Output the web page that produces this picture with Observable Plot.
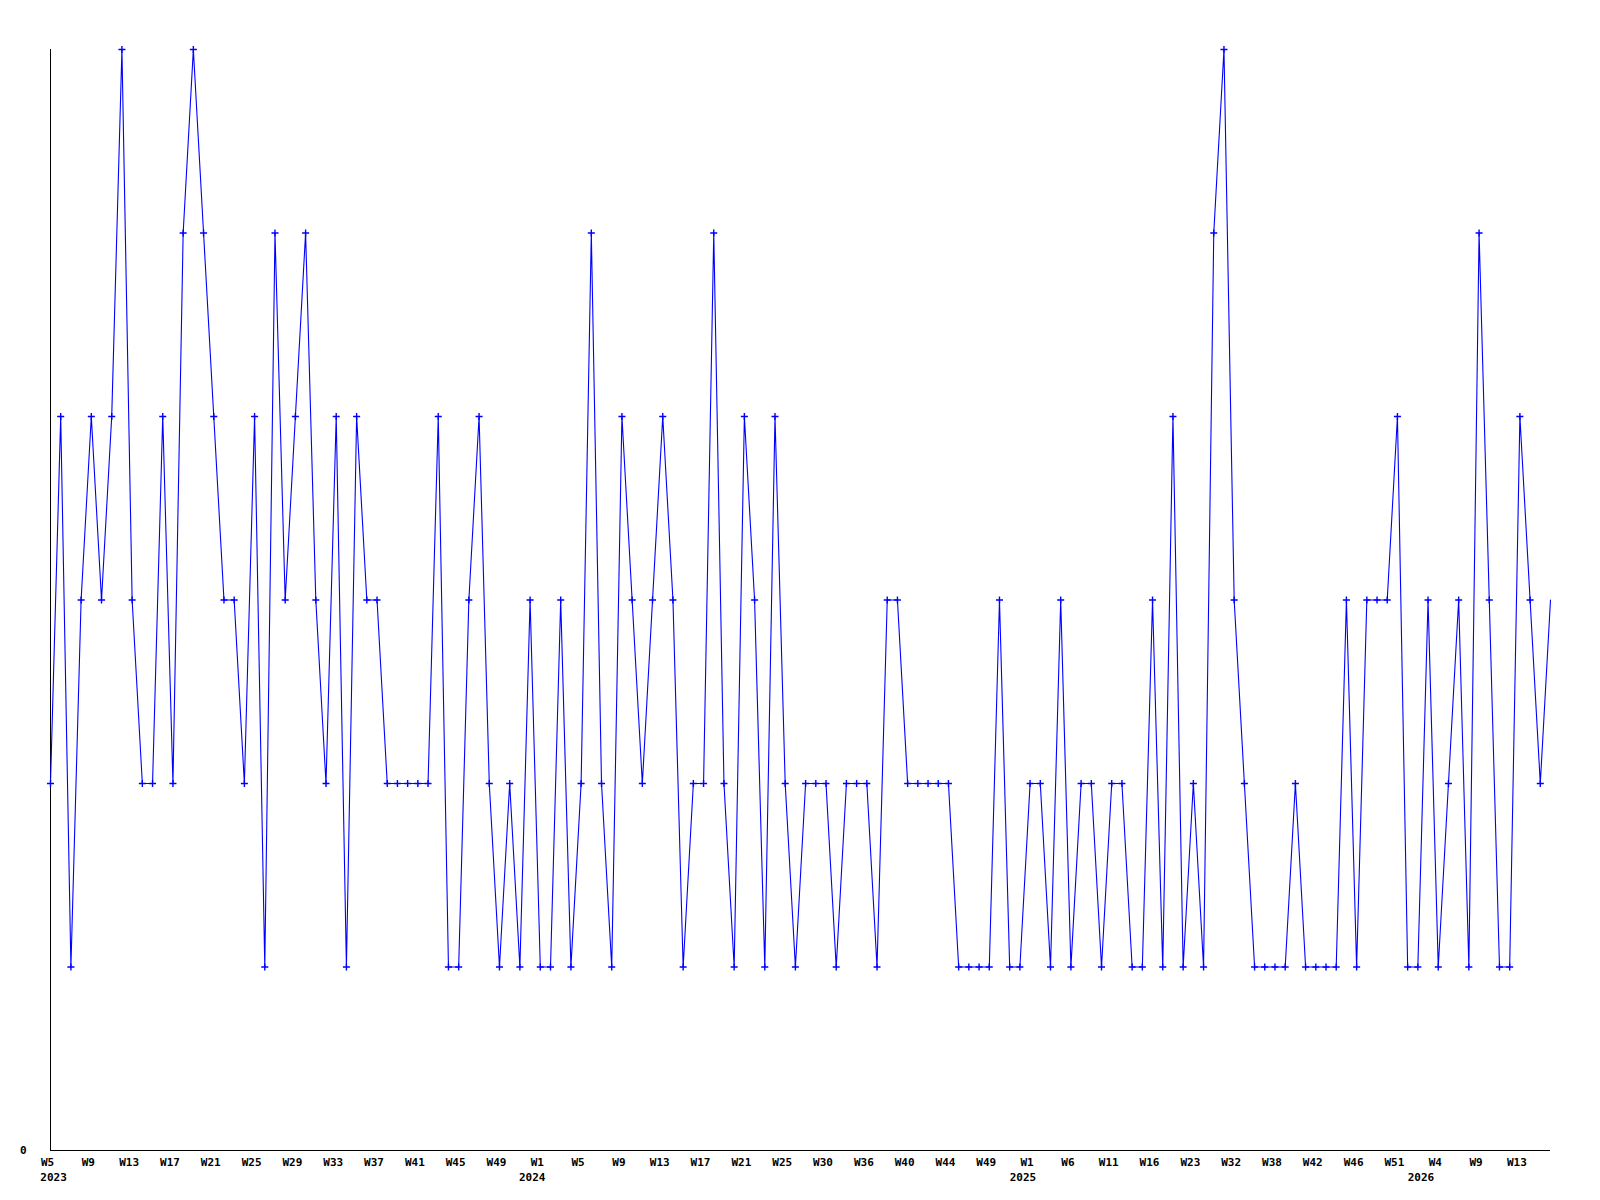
<!DOCTYPE html>
<html>
<head>
<meta charset="utf-8">
<script src="https://cdn.jsdelivr.net/npm/d3@7"></script>
<script src="https://cdn.jsdelivr.net/npm/@observablehq/plot@0.6"></script>
<style>
  html, body { margin: 0; padding: 0; background: #ffffff; }
  #chart svg { display: block; }
</style>
</head>
<body>
<div id="chart"></div>
<script>
// One value per plotted week (ordinal sequence, 2023 W5 onwards)
const values = [
  2, 4, 1, 3, 4, 3, 4, 6, 3, 2, 2, 4, 2, 5, 6, 5, 4, 3, 3, 2,
  4, 1, 5, 3, 4, 5, 3, 2, 4, 1, 4, 3, 3, 2, 2, 2, 2, 2, 4, 1,
  1, 3, 4, 2, 1, 2, 1, 3, 1, 1, 3, 1, 2, 5, 2, 1, 4, 3, 2, 3,
  4, 3, 1, 2, 2, 5, 2, 1, 4, 3, 1, 4, 2, 1, 2, 2, 2, 1, 2, 2,
  2, 1, 3, 3, 2, 2, 2, 2, 2, 1, 1, 1, 1, 3, 1, 1, 2, 2, 1, 3,
  1, 2, 2, 1, 2, 2, 1, 1, 3, 1, 4, 1, 2, 1, 5, 6, 3, 2, 1, 1,
  1, 1, 2, 1, 1, 1, 1, 3, 1, 3, 3, 3, 4, 1, 1, 3, 1, 2, 3, 1,
  5, 3, 1, 1, 4, 3, 2, 3
];

// Week tick labels, one every 4th point
const weekLabels = [
  "W5","W9","W13","W17","W21","W25","W29","W33","W37","W41","W45","W49",
  "W1","W5","W9","W13","W17","W21","W25","W30","W36","W40","W44","W49",
  "W1","W6","W11","W16","W23","W32","W38","W42","W46","W51",
  "W4","W9","W13"
];
const tickStep = 4;

// Year labels and where each year begins along the point sequence
const yearLabels = ["2023", "2024", "2025", "2026"];
const yearStarts = [0.3, 47.2, 95.3, 134.3];

const data = values.map((v, i) => ({i, v}));
const markerData = data.slice(0, data.length - 1); // last (in-progress) week has no marker
const tickIdx = weekLabels.map((_, k) => k * tickStep);
const years = yearLabels.map((label, k) => ({label, i: yearStarts[k]}));

const FONT = "'DejaVu Sans Mono', 'Liberation Mono', monospace";

const chart = Plot.plot({
  width: 1600,
  height: 1200,
  marginLeft: 50,
  marginRight: 50,
  marginTop: 49,
  marginBottom: 50,
  style: {background: "#ffffff", fontFamily: FONT, fontSize: "11px", fontWeight: "bold", color: "#000"},
  x: {domain: [0, values.length - 1], axis: null, label: null},
  y: {domain: [0, 6], axis: null, label: null},
  marks: [
    Plot.axisX({
      ticks: tickIdx,
      tickFormat: (d) => weekLabels[Math.round(d / tickStep)],
      tickSize: 0,
      tickPadding: 8,
      dx: -3,
      label: null,
      fontWeight: "bold",
      fill: "#000"
    }),
    Plot.axisY({
      ticks: [0],
      tickFormat: "d",
      tickSize: 0,
      tickPadding: 24,
      label: null,
      fontWeight: "bold",
      fill: "#000"
    }),
    Plot.text(years, {
      x: "i", y: () => 0, text: "label",
      dy: 27, fontWeight: "bold", fill: "#000", textAnchor: "middle"
    }),
    Plot.ruleX([0], {y1: 0, y2: 6, stroke: "#000", strokeWidth: 1}),
    Plot.ruleY([0], {x1: 0, x2: values.length - 1, stroke: "#000", strokeWidth: 1}),
    Plot.line(data, {x: "i", y: "v", stroke: "#0000ff", strokeWidth: 1.1}),
    Plot.dot(markerData, {x: "i", y: "v", symbol: "plus", r: 2.4, fill: "#0000ff", stroke: "#0000ff", strokeWidth: 1.4})
  ]
});

document.getElementById("chart").appendChild(chart);
</script>
</body>
</html>
